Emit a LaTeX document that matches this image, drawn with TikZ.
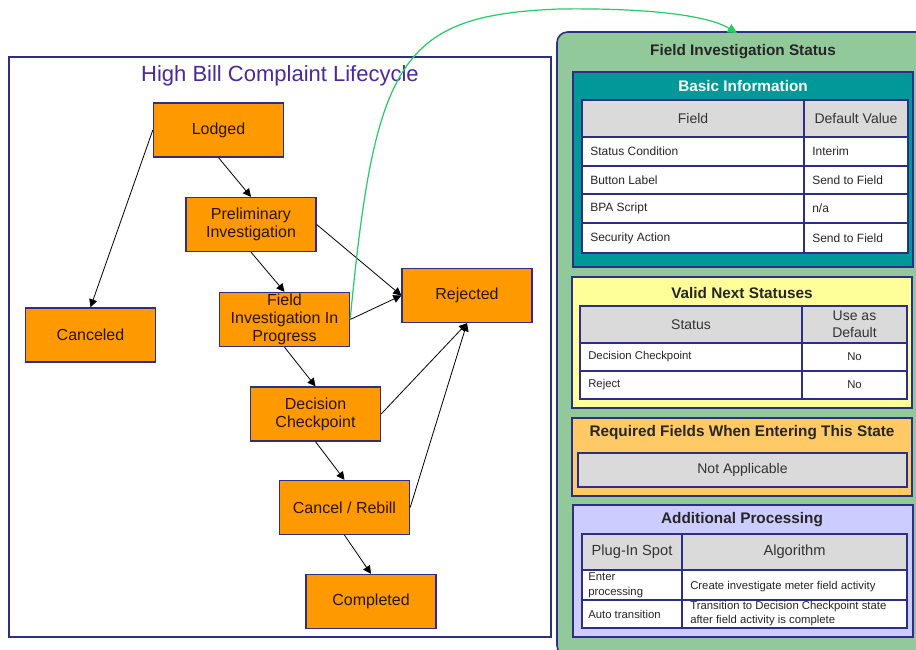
\documentclass[tikz,border=0pt]{standalone}
\usepackage{fontspec}
\setmainfont{Liberation Sans}
\usetikzlibrary{arrows.meta}
\definecolor{navy}{HTML}{2E2E86}
\definecolor{orng}{HTML}{FF9900}
\definecolor{ntext}{HTML}{2A1500}
\definecolor{ttl}{HTML}{4A2A9A}
\definecolor{grnbox}{HTML}{92C99A}
\definecolor{tealp}{HTML}{009898}
\definecolor{ylw}{HTML}{FFFF99}
\definecolor{orgp}{HTML}{FFC966}
\definecolor{lav}{HTML}{CCCCFF}
\definecolor{hdr}{HTML}{DADADA}
\definecolor{grn}{HTML}{22CC66}
\begin{document}
\begin{tikzpicture}[x=0.75pt,y=-0.75pt,
  state/.style={draw=navy, line width=1pt, fill=orng, minimum width=97.5pt, minimum height=40.5pt,
    inner sep=0pt, align=center, text=ntext, font=\fontsize{12}{13.5}\selectfont},
  arr/.style={draw=black, line width=0.6pt, -{Triangle[length=6pt,width=6pt]}},
  panel/.style={draw=navy, line width=1pt},
  tline/.style={draw=navy, line width=1pt},
  ptitle/.style={font=\bfseries\fontsize{11.5}{13}\selectfont, text=black!85, inner sep=0pt},
  hcell/.style={font=\fontsize{10.5}{13}\selectfont, align=center, text=black!80, inner sep=0pt},
  lcell/.style={anchor=west, font=\fontsize{9}{11}\selectfont, align=left, text=black!85, inner sep=0pt},
  scell/.style={anchor=west, font=\fontsize{8.5}{10.5}\selectfont, align=left, text=black!85, inner sep=0pt},
  ccell/.style={font=\fontsize{8.5}{10.5}\selectfont, text=black!85, inner sep=0pt}]
\useasboundingbox (0,0) rectangle (916,649);
\fill[white] (0,0) rectangle (916,649);

% ---------- left lifecycle frame ----------
\draw[navy, line width=1pt] (9,57) rectangle (551,637);
\node[font=\fontsize{16.5}{18}\selectfont, text=ttl] (title) at (280,76) {High Bill Complaint Lifecycle};

\node[state] (lodged) at (218.5,130) {Lodged};
\node[state] (prelim) at (251,224.5) {Preliminary\\Investigation};
\node[state] (field) at (284.5,319.5) {Field\\Investigation In\\Progress};
\node[state] (rejected) at (467,295.5) {Rejected};
\node[state] (canceled) at (90.5,335) {Canceled};
\node[state] (decision) at (315.5,414) {Decision\\Checkpoint};
\node[state] (rebill) at (344.5,507.5) {Cancel / Rebill};
\node[state] (completed) at (371,601.5) {Completed};

\draw[arr] (lodged.west) -- (canceled.north);
\draw[arr] (lodged.south) -- (prelim.north);
\draw[arr] (prelim.south) -- (field.north);
\draw[arr] (prelim.east) -- (rejected.west);
\draw[arr] (field.east) -- (rejected.west);
\draw[arr] (field.south) -- (decision.north);
\draw[arr] (decision.east) -- (rejected.south);
\draw[arr] (rebill.east) -- (rejected.south);
\draw[arr] (decision.south) -- (rebill.north);
\draw[arr] (rebill.south) -- (completed.north);

% ---------- right status box ----------
\draw[fill=grnbox, draw=navy, line width=1.2pt, rounded corners=8pt] (935,32) -- (557,32) -- (557,656) -- (935,656);
\node[ptitle] (fistitle) at (743,52) {Field Investigation Status};

% Basic information
\draw[panel, fill=tealp] (573,72) rectangle (913,267);
\node[ptitle, text=white] (bititle) at (743,86) {Basic Information};
\draw[tline, fill=hdr] (582,100) rectangle (908,137);
\draw[tline, fill=white] (582,137) rectangle (908,253);
\draw[tline] (582,166) -- (908,166);
\draw[tline] (582,194) -- (908,194);
\draw[tline] (582,223) -- (908,223);
\draw[tline] (804,100) -- (804,253);
\node[hcell] (bh1) at (693,118.5) {Field};
\node[hcell] (bh2) at (856,118.5) {Default Value};
\node[lcell] (b11) at (590,151.5) {Status Condition};
\node[lcell] (b12) at (812,151.5) {Interim};
\node[lcell] (b21) at (590,180) {Button Label};
\node[lcell] (b22) at (812,180) {Send to Field};
\node[lcell] (b31) at (590,208.5) {BPA Script};
\node[lcell] (b32) at (812,208.5) {n/a};
\node[lcell] (b41) at (590,238) {Security Action};
\node[lcell] (b42) at (812,238) {Send to Field};

% Valid next statuses
\draw[panel, fill=ylw] (572,277) rectangle (912,408);
\node[ptitle] (vtitle) at (742,293) {Valid Next Statuses};
\draw[tline, fill=hdr] (580,306) rectangle (907,343);
\draw[tline, fill=white] (580,343) rectangle (907,399);
\draw[tline] (580,371) -- (907,371);
\draw[tline] (802,306) -- (802,399);
\node[hcell] (vh1) at (691,324.5) {Status};
\node[hcell] (vh2) at (854.5,324.5) {Use as\\Default};
\node[scell] (v11) at (588,357) {Decision Checkpoint};
\node[ccell] (v12) at (854.5,357) {No};
\node[scell] (v21) at (588,385) {Reject};
\node[ccell] (v22) at (854.5,385) {No};

% Required fields
\draw[panel, fill=orgp] (572,418) rectangle (912,496);
\node[ptitle] (rtitle) at (742,433) {Required Fields When Entering This State};
\draw[tline, fill=hdr] (578,453) rectangle (907,487);
\node[hcell] (rna) at (742.5,470) {Not Applicable};

% Additional processing
\draw[panel, fill=lav] (573,505) rectangle (913,637);
\node[ptitle] (atitle) at (742,520) {Additional Processing};
\draw[tline, fill=hdr] (582,534) rectangle (907,570);
\draw[tline, fill=white] (582,570) rectangle (907,628);
\draw[tline] (582,600) -- (907,600);
\draw[tline, line width=1.5pt] (682,534) -- (682,628);
\node[hcell, font=\fontsize{11}{13}\selectfont] (ah1) at (632,552) {Plug-In Spot};
\node[hcell, font=\fontsize{11}{13}\selectfont] (ah2) at (794.5,552) {Algorithm};
\node[scell, font=\fontsize{8.5}{11}\selectfont] (a11) at (588,585) {Enter\\processing};
\node[scell] (a12) at (690,587) {Create investigate meter field activity};
\node[scell] (a21) at (588,614) {Auto transition};
\node[scell] (a22) at (690,614) {Transition to Decision Checkpoint state\\after field activity is complete};

% ---------- green transition curve ----------
\coordinate (gtip) at (737,33);
\draw[grn, line width=0.9pt, -{Triangle[length=7pt,width=7pt]}] (field.east) .. controls (375,60) and (400,15) .. (560,9) .. controls (640,8) and (705,14) .. (gtip);
\end{tikzpicture}
\end{document}
